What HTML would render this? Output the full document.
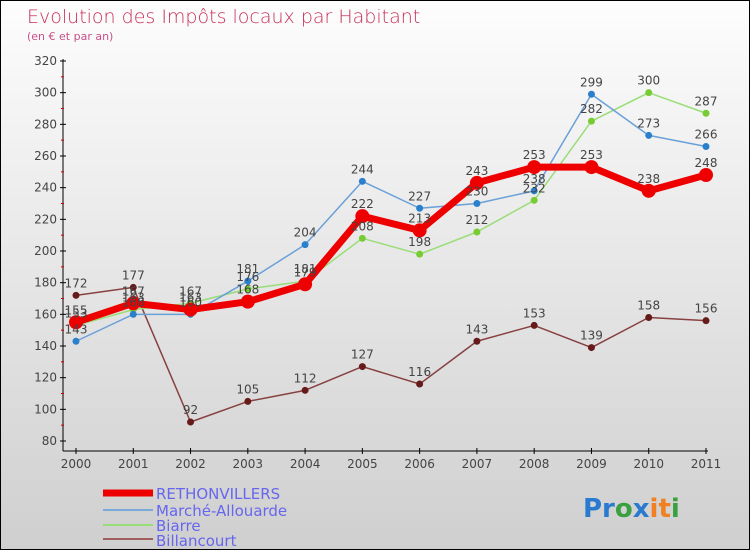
<!DOCTYPE html>
<html><head><meta charset="utf-8"><style>
html,body{margin:0;padding:0}
body{width:750px;height:550px;overflow:hidden;font-family:"DejaVu Sans","Liberation Sans",sans-serif}
#c{position:absolute;left:0;top:0;width:748px;height:548px;border:1px solid #000;background:linear-gradient(#fdfdfd,#cfcfcf)}
</style></head><body>
<div id="c">
<svg id="svg" width="750" height="550" xmlns="http://www.w3.org/2000/svg">
<text x="26" y="22" font-size="19" fill="#c8305a" font-weight="200">Evolution des Impôts locaux par Habitant</text>
<text x="26" y="39" font-size="11" fill="#c8508a">(en € et par an)</text>
<g id="axes"></g><g id="series"></g><g id="labels"></g>
<g>
<line x1="102" y1="492" x2="152" y2="492" stroke="#e00" stroke-width="7"/>
<text x="155" y="498" font-size="15" fill="#6666ee">RETHONVILLERS</text>
<line x1="102" y1="509" x2="152" y2="509" stroke="#7aaad8" stroke-width="2"/>
<text x="155" y="515" font-size="15" fill="#6666ee">Marché-Allouarde</text>
<line x1="102" y1="524" x2="152" y2="524" stroke="#99dd77" stroke-width="2"/>
<text x="155" y="530" font-size="15" fill="#6666ee">Biarre</text>
<line x1="102" y1="538" x2="152" y2="538" stroke="#a06060" stroke-width="2"/>
<text x="155" y="545" font-size="15" fill="#6666ee">Billancourt</text>
</g>
<text x="582" y="516" font-size="26" font-weight="bold"><tspan fill="#2a7ad0">Pr</tspan><tspan fill="#3aa040">o</tspan><tspan fill="#2a7ad0">x</tspan><tspan fill="#f08020">it</tspan><tspan fill="#3aa040">i</tspan></text>
</svg></div>
<script>
const years=[2000,2001,2002,2003,2004,2005,2006,2007,2008,2009,2010,2011];
const yTicks=[80,100,120,140,160,180,200,220,240,260,280,300,320];
const rethonvillers=[155,167,163,168,179,222,213,243,253,253,238,248];
const marcheAllouarde=[143,160,160,181,204,244,227,230,238,299,273,266];
const biarre=[153,163,167,176,181,208,198,212,232,282,300,287];
const billancourt=[172,177,92,105,112,127,116,143,153,139,158,156];
const NS="http://www.w3.org/2000/svg";
const X=i=>75+i*(630/11);
const Y=v=>440-(v-80)*380/240;
function mk(t,a,p){const e=document.createElementNS(NS,t);for(const k in a)e.setAttribute(k,a[k]);p.appendChild(e);return e;}
const ax=document.getElementById('axes');
let yl=mk('line',{x1:62,y1:58,x2:62,y2:450,stroke:'#000'},ax);


let xl=mk('line',{x1:62,y1:450,x2:707,y2:450,stroke:'#000'},ax);


yTicks.forEach((v,i)=>{
 mk('line',{x1:59,y1:Y(v),x2:65,y2:Y(v),stroke:'#000'},ax);
 if(i<yTicks.length-1)mk('line',{x1:60,y1:Y(v+10),x2:63,y2:Y(v+10),stroke:'#c00'},ax);
 const t=mk('text',{x:56,y:Y(v)+4,'font-size':12,fill:'#444','text-anchor':'end'},ax);t.textContent=v;
 
 
});
years.forEach((y,i)=>{
 mk('line',{x1:X(i),y1:447,x2:X(i),y2:453,stroke:'#000'},ax);
 const t=mk('text',{x:X(i),y:467,'font-size':12,fill:'#444','text-anchor':'middle'},ax);t.textContent=y;
 
 
});
const sg=document.getElementById('series'),lg=document.getElementById('labels');
function draw(name,data,color,dot,w,r){
 const g=mk('g',{},sg);
 
 
 mk('polyline',{points:data.map((v,i)=>X(i)+','+Y(v)).join(' '),fill:'none',stroke:color,'stroke-width':w,'stroke-linejoin':'round'},g);
 data.forEach((v,i)=>{
  const c=mk('circle',{cx:X(i),cy:Y(v),r:r,fill:dot},g);
  
  
  const t=mk('text',{x:X(i),y:Y(v)-8,'font-size':12,fill:'#444','text-anchor':'middle'},lg);t.textContent=v;
  
  
 });
}
draw('billancourt',billancourt,'#884040','#661a1a',1.5,3.5);
draw('biarre',biarre,'#99dd77','#77cc33',1.5,3.5);
draw('marche-allouarde',marcheAllouarde,'#6aa0d8','#2a80cc',1.5,3.5);
draw('rethonvillers',rethonvillers,'#ee0000','#ee0000',7,7);
</script>
</body></html>
